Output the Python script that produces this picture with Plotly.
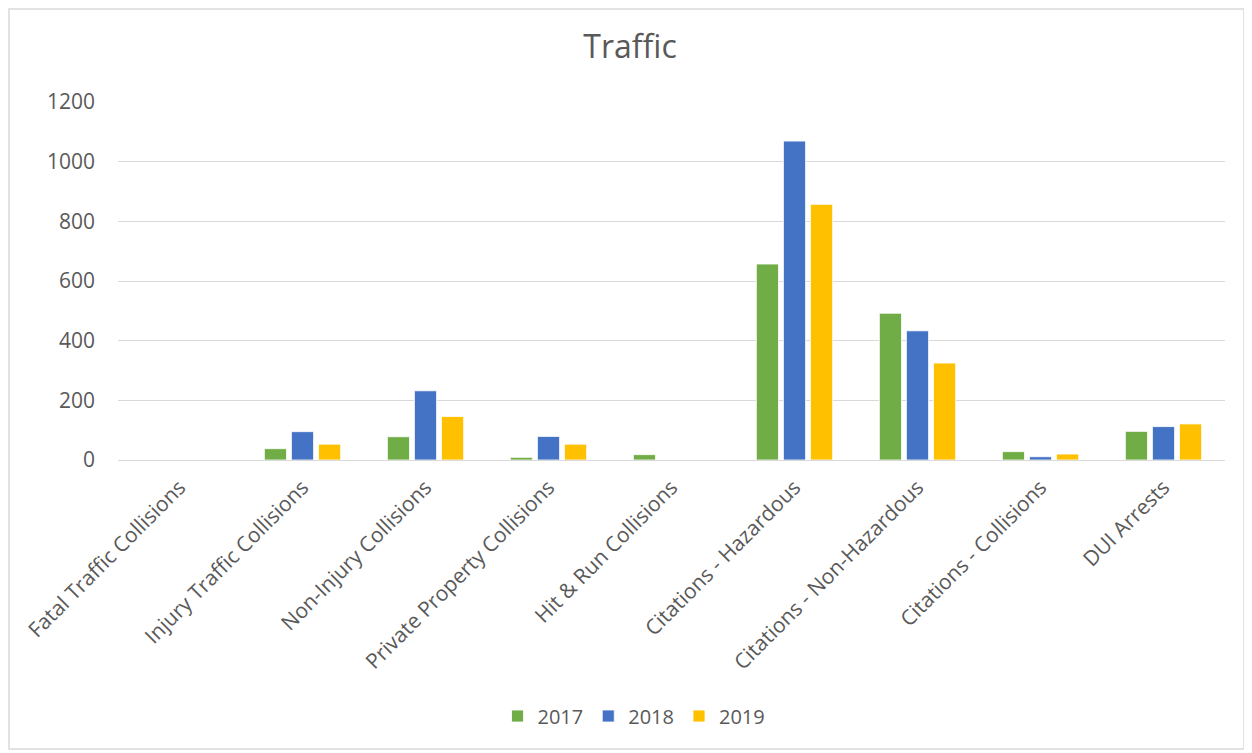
import plotly.graph_objects as go

categories = ["Fatal Traffic Collisions", "Injury Traffic Collisions", "Non-Injury Collisions",
              "Private Property Collisions", "Hit & Run Collisions", "Citations - Hazardous",
              "Citations - Non-Hazardous", "Citations - Collisions", "DUI Arrests"]
v2017 = [0, 38, 78, 9, 18, 657, 492, 28, 96]
v2018 = [0, 95, 232, 79, 0, 1069, 433, 11, 112]
v2019 = [0, 53, 146, 53, 0, 857, 325, 20, 121]
series_names = ["2017", "2018", "2019"]
colors = ["#70AD47", "#4472C4", "#FFC000"]

font_family = "Open Sans, Segoe UI, sans-serif"
text_color = "#595959"

fig = go.Figure()
for name, vals, col in zip(series_names, [v2017, v2018, v2019], colors):
    fig.add_trace(go.Bar(x=categories, y=vals, name=name,
                         marker=dict(color=col, line=dict(color="white", width=0.8))))

OFF = 8  # page body margin
W, H = 1252 - OFF, 753 - OFF
L, R, T, B = 118 - OFF, 1252 - 1225, 102 - OFF, 753 - 460
pw, ph = W - L - R, H - T - B

def px_x(p):
    return (p - OFF - L) / pw

def px_y(p):
    return (H - B - (p - OFF)) / ph

fig.update_layout(
    width=W, height=H,
    margin=dict(l=L, r=R, t=T, b=B),
    paper_bgcolor="white", plot_bgcolor="white",
    font=dict(family=font_family, color=text_color, size=20),
    title=dict(text="Traffic", x=0.5, xanchor="center", y=1 - (47 - OFF) / H, yanchor="middle",
               font=dict(size=32, color=text_color, family=font_family)),
    barmode="group", bargap=0.34, bargroupgap=0.18,
    showlegend=True,
    legend=dict(orientation="h", x=px_x(634), xanchor="center", y=px_y(716), yanchor="middle",
                font=dict(size=20, color=text_color), traceorder="normal", itemwidth=30),
    xaxis=dict(tickangle=-45, showgrid=False, showline=False, ticks="", ticklabelstandoff=10,
               tickfont=dict(size=21, color=text_color)),
    yaxis=dict(range=[0, 1200], dtick=200, showgrid=True, gridcolor="#D9D9D9", gridwidth=1.3,
               zeroline=True, zerolinecolor="#D9D9D9", zerolinewidth=1.3, showline=False,
               ticks="", ticklabelstandoff=22, tickfont=dict(size=21, color=text_color)),
    shapes=[dict(type="rect", xref="paper", yref="paper",
                 x0=px_x(OFF + 1), x1=px_x(1244), y0=px_y(749), y1=px_y(OFF + 1),
                 line=dict(color="#D9D9D9", width=1.5), fillcolor="rgba(0,0,0,0)", layer="below")],
)

fig.write_html("out.html")
